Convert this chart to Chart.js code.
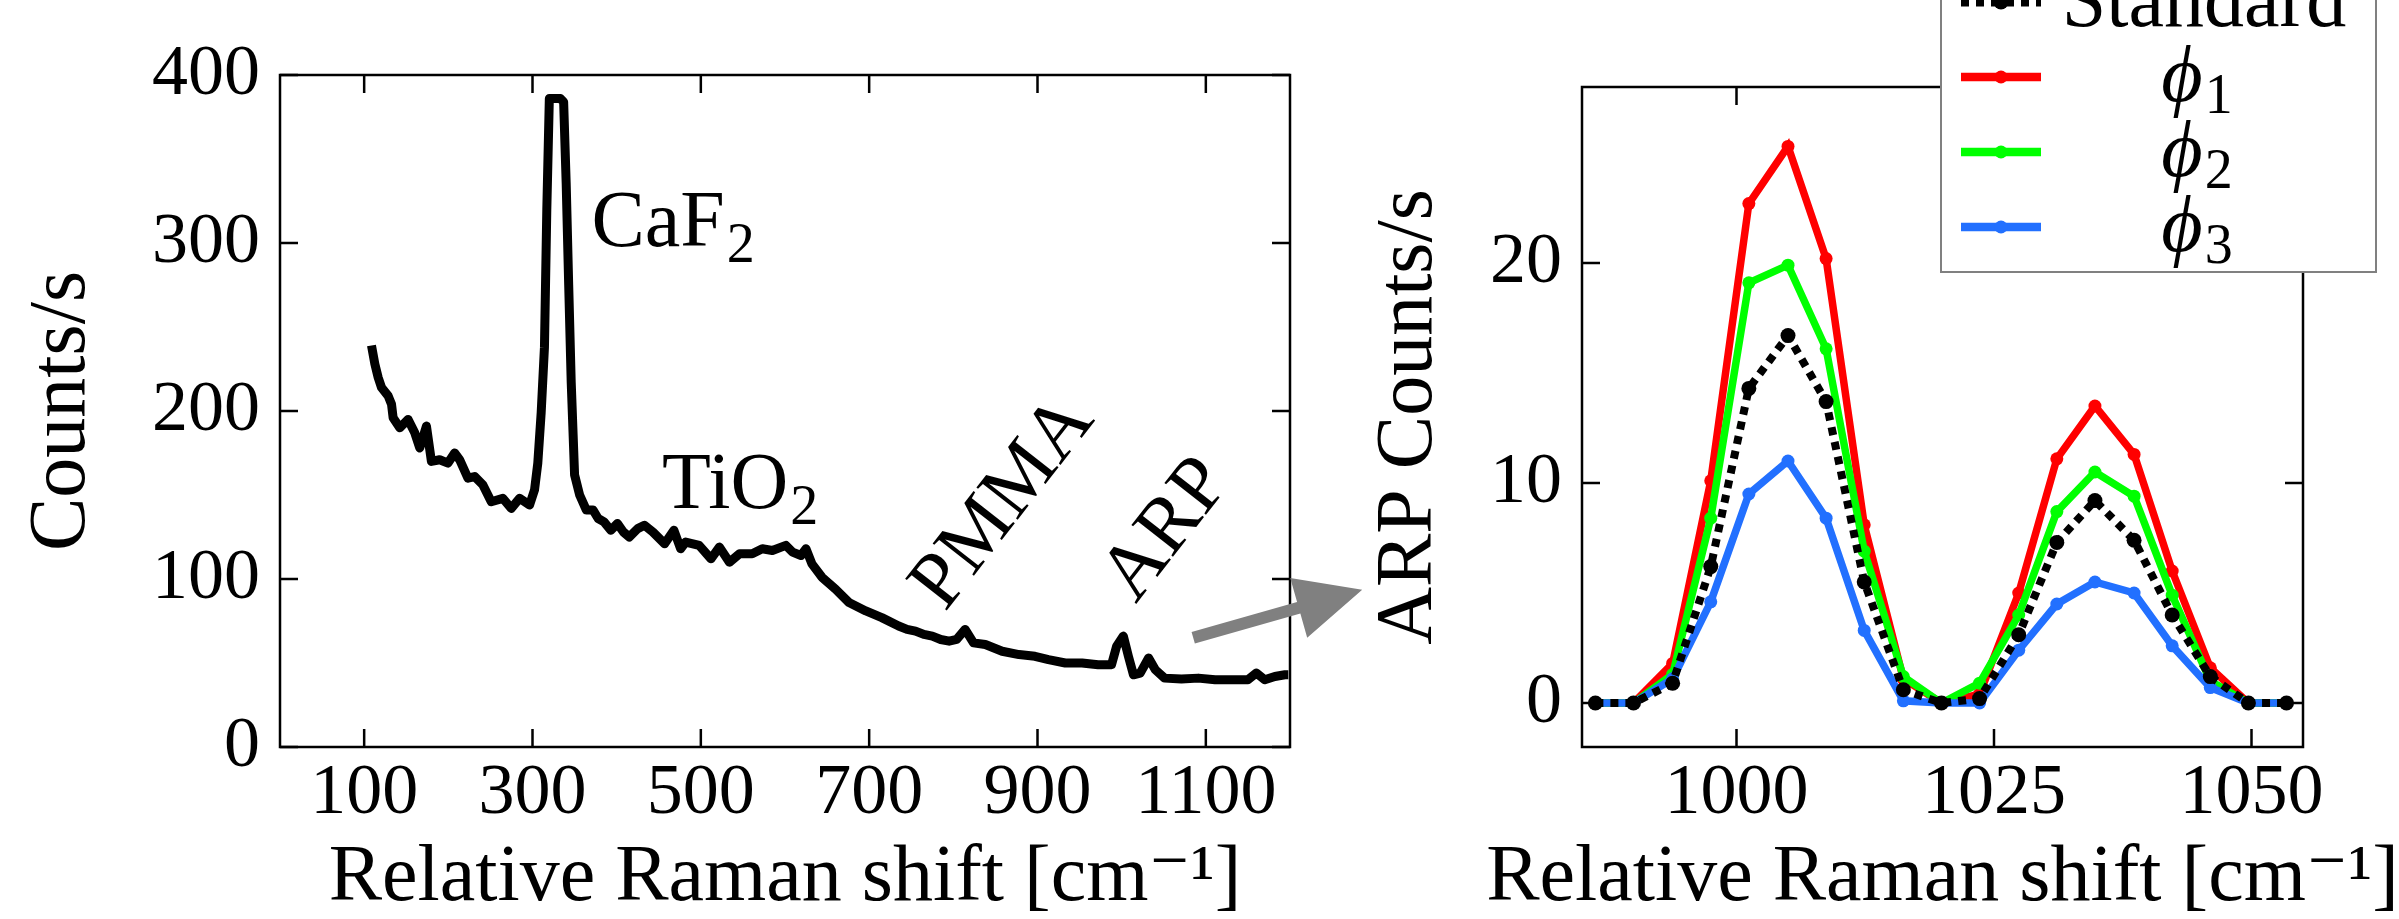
<!DOCTYPE html>
<html>
<head>
<meta charset="utf-8">
<script src="https://cdn.jsdelivr.net/npm/chart.js@4.4.1/dist/chart.umd.min.js"></script>
<style>
  html, body { margin: 0; padding: 0; background: #fff; }
  body { width: 2399px; height: 919px; position: relative; overflow: hidden; }
  canvas { position: absolute; top: 0; }
  #overview { left: 0; }
  #detail { left: 1340px; }
</style>
</head>
<body>
<canvas id="overview" width="1400" height="919"></canvas>
<canvas id="detail" width="1059" height="919"></canvas>
<script>
// full spectrum (left panel)
const overviewShift = [
  108.7, 112.7, 116.6, 120.6, 128.5, 132.5, 134.4, 142.3, 152.2, 160.1,
  166, 174, 179.9, 189.7, 199.6, 207.5, 213.4, 223.3, 231.2, 241.1,
  251, 264.8, 274.8, 284.6, 296.5, 302.4, 306.3, 310.3, 314.2, 317,
  320, 326, 333, 337, 340, 343, 346, 350, 356, 364,
  372, 378, 385, 393, 401, 408, 415, 425, 433, 443,
  457, 468, 476, 482, 498, 512, 522, 534, 546, 561,
  573, 585, 601, 609, 619, 625, 632, 644, 660, 676,
  696, 715, 735, 745, 755, 765, 775, 785, 795, 804,
  814, 824, 838, 858, 878, 897, 913, 933, 953, 972,
  988, 994, 1002, 1008, 1014, 1022, 1032, 1040, 1051, 1071,
  1091, 1111, 1131, 1150, 1160, 1170, 1182, 1194, 1198
];
const overviewCounts = [
  239, 228, 220, 214, 209, 204, 196, 190, 195, 187,
  178, 191, 170, 171, 169, 175, 171, 160, 161, 156,
  146, 148, 142, 148, 144, 153, 169, 199, 238, 320,
  386, 386, 386, 384, 336, 275, 217, 162, 150, 141,
  141, 136, 134, 129, 133, 128, 125, 130, 132, 128,
  121, 129, 118, 122, 120, 112, 119, 110, 115, 115,
  118, 117, 120, 116, 114, 118, 109, 101, 94, 86,
  81, 77, 72, 70, 69, 67, 66, 64, 63, 64,
  70, 62, 61, 57, 55, 54, 52, 50, 50, 49,
  49, 60, 66, 54, 43, 44, 53, 46, 41, 40.5,
  41, 40, 40, 40, 44, 40, 42, 43, 43
];
const overviewTicksX = [100, 300, 500, 700, 900, 1100];
const overviewTicksY = [0, 100, 200, 300, 400];

// ARP region (right panel)
const detailShift = [
  986.3, 990.0, 993.8, 997.5, 1001.2, 1005.0, 1008.7, 1012.4, 1016.2, 1019.9,
  1023.6, 1027.4, 1031.1, 1034.8, 1038.6, 1042.3, 1046.0, 1049.7, 1053.4
];
const standardCounts = [0, 0, 0.9, 6.2, 14.3, 16.7, 13.7, 5.5, 0.6, 0, 0.2, 3.1, 7.3, 9.2, 7.4, 4.0, 1.2, 0, 0];
const phi1Counts = [0, 0, 1.8, 10.1, 22.7, 25.3, 20.2, 8.1, 1.1, 0, 0.4, 5.0, 11.1, 13.5, 11.3, 6.0, 1.6, 0, 0];
const phi2Counts = [0, 0, 1.3, 8.4, 19.1, 19.9, 16.1, 6.9, 1.2, 0, 0.9, 4.0, 8.7, 10.5, 9.4, 4.9, 1.0, 0, 0];
const phi3Counts = [0, 0, 1.1, 4.6, 9.5, 11.0, 8.4, 3.3, 0.1, 0, 0, 2.4, 4.5, 5.5, 5.0, 2.6, 0.7, 0, 0];
const detailTicksX = [1000, 1025, 1050];
const detailTicksY = [0, 10, 20];

const FONT = "'Liberation Serif', 'DejaVu Serif', serif";
const TICK_SIZE = 72;
const TEXT_SIZE = 80;
const X_TITLE = "Relative Raman shift [cm\u207B\u00B9]";

Chart.defaults.font.family = FONT;
Chart.defaults.color = "#000";
Chart.defaults.animation = false;

const toPoints = (xs, ys) => xs.map((x, i) => ({ x, y: ys[i] }));

// matplotlib-like box with inward ticks on all four sides
const framePlugin = {
  id: "frame",
  afterDatasetsDraw(chart) {
    const { ctx, chartArea: a, scales: { x, y } } = chart;
    const len = 18;
    ctx.save();
    ctx.strokeStyle = "#000";
    ctx.lineWidth = 2.5;
    ctx.strokeRect(a.left, a.top, a.right - a.left, a.bottom - a.top);
    ctx.beginPath();
    x.ticks.forEach(t => {
      const px = x.getPixelForValue(t.value);
      ctx.moveTo(px, a.bottom); ctx.lineTo(px, a.bottom - len);
      ctx.moveTo(px, a.top); ctx.lineTo(px, a.top + len);
    });
    y.ticks.forEach(t => {
      const py = y.getPixelForValue(t.value);
      ctx.moveTo(a.left, py); ctx.lineTo(a.left + len, py);
      ctx.moveTo(a.right, py); ctx.lineTo(a.right - len, py);
    });
    ctx.stroke();
    ctx.restore();
  }
};

// x-axis title that may run wider than the plot box (Chart.js would squeeze it)
const wideTitlePlugin = {
  id: "wideTitle",
  afterDraw(chart, args, opts) {
    const { ctx, chartArea: a } = chart;
    ctx.save();
    ctx.fillStyle = "#000";
    ctx.font = `${TEXT_SIZE}px ${FONT}`;
    ctx.textAlign = "center";
    ctx.textBaseline = "middle";
    ctx.fillText(opts.text, (a.left + a.right) / 2, chart.height - TEXT_SIZE / 2);
    ctx.restore();
  }
};

// text with a lowered subscript
function drawSub(ctx, text, sub, size) {
  ctx.font = `${size}px ${FONT}`;
  ctx.fillText(text, 0, 0);
  const w = ctx.measureText(text).width;
  ctx.font = `${Math.round(size * 0.7)}px ${FONT}`;
  ctx.fillText(sub, w + 2, size * 0.2);
}

const peakLabelPlugin = {
  id: "peakLabels",
  afterDatasetsDraw(chart, args, opts) {
    const { ctx, scales: { x, y } } = chart;
    ctx.save();
    ctx.fillStyle = "#000";
    opts.items.forEach(item => {
      ctx.save();
      ctx.translate(x.getPixelForValue(item.x), y.getPixelForValue(item.y));
      if (item.angle) {
        ctx.rotate(-item.angle * Math.PI / 180);
        ctx.textAlign = "center";
        ctx.textBaseline = "middle";
      } else {
        ctx.textAlign = "left";
        ctx.textBaseline = "alphabetic";
      }
      if (item.sub) drawSub(ctx, item.text, item.sub, TEXT_SIZE);
      else {
        ctx.font = `${TEXT_SIZE}px ${FONT}`;
        ctx.fillText(item.text, 0, 0);
      }
      ctx.restore();
    });

    // grey arrow pointing to the zoomed panel
    const sx = x.getPixelForValue(opts.arrowFrom.x);
    const sy = y.getPixelForValue(opts.arrowFrom.y);
    const dx = 169, dy = -48;
    const L = Math.hypot(dx, dy), ux = dx / L, uy = dy / L;
    const head = 66, half = 31, shaft = 6;
    const bx = sx + ux * (L - head), by = sy + uy * (L - head);
    ctx.fillStyle = "#808080";
    ctx.beginPath();
    ctx.moveTo(sx - uy * shaft, sy + ux * shaft);
    ctx.lineTo(bx - uy * shaft, by + ux * shaft);
    ctx.lineTo(bx - uy * half, by + ux * half);
    ctx.lineTo(sx + dx, sy + dy);
    ctx.lineTo(bx + uy * half, by - ux * half);
    ctx.lineTo(bx + uy * shaft, by - ux * shaft);
    ctx.lineTo(sx + uy * shaft, sy - ux * shaft);
    ctx.closePath();
    ctx.fill();
    ctx.restore();
  }
};

// legend box in the upper right, partly above the figure
const boxLegendPlugin = {
  id: "boxLegend",
  afterDraw(chart) {
    const { ctx, chartArea: a } = chart;
    const left = a.right - 362, right = a.right + 73;
    const bottom = a.top + 185, top = -10;
    ctx.save();
    ctx.fillStyle = "#fff";
    ctx.fillRect(left, top, right - left, bottom - top);
    ctx.strokeStyle = "#808080";
    ctx.lineWidth = 2;
    ctx.strokeRect(left, top, right - left, bottom - top);
    chart.data.datasets.forEach((ds, i) => {
      const rowY = bottom - 270 + 75 * i;
      const x0 = left + 20, x1 = left + 100;
      ctx.strokeStyle = ds.borderColor;
      ctx.lineWidth = ds.borderWidth + 1;
      ctx.setLineDash(ds.borderDash || []);
      ctx.beginPath();
      ctx.moveTo(x0, rowY); ctx.lineTo(x1, rowY);
      ctx.stroke();
      ctx.setLineDash([]);
      ctx.fillStyle = ds.borderColor;
      ctx.beginPath();
      ctx.arc((x0 + x1) / 2, rowY, ds.pointRadius, 0, Math.PI * 2);
      ctx.fill();
      ctx.fillStyle = "#000";
      ctx.textBaseline = "alphabetic";
      const cx = left + 255, base = rowY + 24;
      const label = ds.label;
      const subMap = { "₁": "1", "₂": "2", "₃": "3" };
      if (subMap[label.slice(-1)]) {
        const main = label.slice(0, -1), sub = subMap[label.slice(-1)];
        ctx.font = `italic ${TEXT_SIZE}px ${FONT}`;
        const w1 = ctx.measureText(main).width;
        ctx.font = `${Math.round(TEXT_SIZE * 0.7)}px ${FONT}`;
        const w2 = ctx.measureText(sub).width;
        const start = cx - (w1 + w2) / 2;
        ctx.textAlign = "left";
        ctx.font = `italic ${TEXT_SIZE}px ${FONT}`;
        ctx.fillText(main, start, base);
        ctx.font = `${Math.round(TEXT_SIZE * 0.7)}px ${FONT}`;
        ctx.fillText(sub, start + w1 + 2, base + 12);
      } else {
        ctx.textAlign = "center";
        ctx.font = `${TEXT_SIZE}px ${FONT}`;
        ctx.fillText(label, cx + 8, base);
      }
    });
    ctx.restore();
  }
};

function axis(min, max, ticks, extra) {
  return Object.assign({
    type: "linear",
    min, max,
    grid: { display: false, drawTicks: false },
    border: { display: false },
    afterBuildTicks: s => { s.ticks = ticks.map(v => ({ value: v })); },
    ticks: {
      font: { size: TICK_SIZE },
      color: "#000",
      autoSkip: false,
      maxRotation: 0,
      padding: 4,
      callback: v => String(v)
    }
  }, extra);
}

function yTicks() {
  return { font: { size: TICK_SIZE }, color: "#000", autoSkip: false, padding: 20, callback: v => String(v) };
}

new Chart(document.getElementById("overview"), {
  type: "line",
  data: {
    datasets: [{
      label: "Spectrum",
      data: toPoints(overviewShift, overviewCounts),
      borderColor: "#000",
      borderWidth: 9,
      borderJoinStyle: "round",
      pointRadius: 0,
      tension: 0
    }]
  },
  options: {
    responsive: false,
    devicePixelRatio: 1,
    layout: { padding: { top: 75, right: 110, left: 0, bottom: 0 } },
    plugins: {
      legend: { display: false },
      tooltip: { enabled: false },
      wideTitle: { text: X_TITLE },
      peakLabels: {
        items: [
          { text: "CaF", sub: "2", x: 370, y: 298 },
          { text: "TiO", sub: "2", x: 454, y: 142 },
          { text: "PMMA", x: 860, y: 145, angle: 52 },
          { text: "ARP", x: 1054, y: 129, angle: 52 }
        ],
        arrowFrom: { x: 1085, y: 65 }
      }
    },
    scales: {
      x: axis(0, 1200, overviewTicksX, {
        afterFit: s => { s.height = 172; }
      }),
      y: axis(0, 400, overviewTicksY, {
        afterFit: s => { s.width = 280; },
        ticks: yTicks(),
        title: {
          display: true,
          text: "Counts/s",
          font: { size: TEXT_SIZE, lineHeight: 1 },
          padding: { top: 23, bottom: 0 }
        }
      })
    }
  },
  plugins: [framePlugin, peakLabelPlugin, wideTitlePlugin]
});

new Chart(document.getElementById("detail"), {
  type: "line",
  data: {
    datasets: [
      { label: "Standard", data: toPoints(detailShift, standardCounts), borderColor: "#000",
        borderWidth: 8, borderDash: [8, 7], pointRadius: 7.5, order: 1 },
      { label: "ϕ₁", data: toPoints(detailShift, phi1Counts), borderColor: "#ff0000",
        borderWidth: 7.5, pointRadius: 6.5, order: 4 },
      { label: "ϕ₂", data: toPoints(detailShift, phi2Counts), borderColor: "#00ff00",
        borderWidth: 7.5, pointRadius: 6.5, order: 3 },
      { label: "ϕ₃", data: toPoints(detailShift, phi3Counts), borderColor: "#2270ff",
        borderWidth: 7.5, pointRadius: 6.5, order: 2 }
    ].map(ds => Object.assign(ds, {
      pointBackgroundColor: ds.borderColor,
      pointBorderWidth: 0,
      tension: 0
    }))
  },
  options: {
    responsive: false,
    devicePixelRatio: 1,
    layout: { padding: { top: 87, right: 96, left: 0, bottom: 0 } },
    plugins: {
      legend: { display: false },
      tooltip: { enabled: false },
      wideTitle: { text: X_TITLE }
    },
    scales: {
      x: axis(985, 1055, detailTicksX, {
        afterFit: s => { s.height = 172; }
      }),
      y: axis(-2, 28, detailTicksY, {
        afterFit: s => { s.width = 242; },
        ticks: yTicks(),
        title: {
          display: true,
          text: "ARP Counts/s",
          font: { size: TEXT_SIZE, lineHeight: 1 },
          padding: { top: 30, bottom: 0 }
        }
      })
    }
  },
  plugins: [framePlugin, boxLegendPlugin, wideTitlePlugin]
});
</script>
</body>
</html>
